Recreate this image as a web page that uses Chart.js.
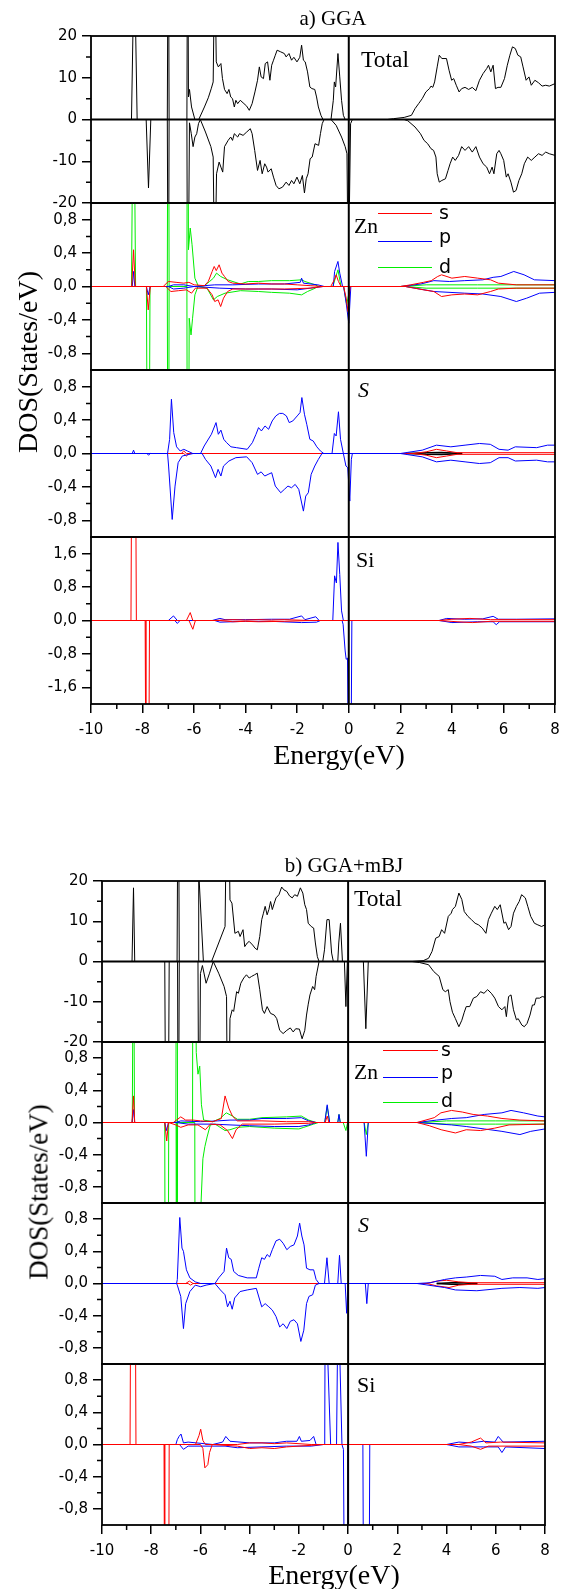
<!DOCTYPE html>
<html>
<head>
<meta charset="utf-8">
<script src="https://cdn.jsdelivr.net/npm/chart.js@4.4.0/dist/chart.umd.min.js"></script>
<style>
  body { margin: 0; background: #fff; }
  #page { position: relative; width: 561px; height: 1589px; overflow: hidden; background: #fff; }
  #page canvas { position: absolute; left: 0; }
  .txt { position: absolute; white-space: nowrap; color: #000; line-height: 1;
         font-family: 'Liberation Serif', 'Times New Roman', serif; }
  .sans { font-family: 'DejaVu Sans', 'Liberation Sans', Arial, sans-serif; }
  .key { position: absolute; height: 1px; }
</style>
</head>
<body>
<div id="page"></div>
<script>
// ---- a) GGA : [energy (eV), DOS] ----
const totUpA = [[-10,0],[-8.43,0],[-8.32,40],[-8.21,0],[-7.04,0],[-7.0,60],[-6.97,0],[-6.28,0],[-6.25,60],[-6.22,5.4],[-6.18,7.2],[-6.1,3],[-5.97,0],[-5.82,0],[-5.6,3],[-5.45,5.2],[-5.33,7.5],[-5.26,9],[-5.2,40],[-5.14,13.8],[-5.06,12.6],[-4.96,13.4],[-4.9,9.8],[-4.82,7.2],[-4.72,6.2],[-4.65,7.2],[-4.58,5.4],[-4.51,5],[-4.44,3],[-4.38,4.6],[-4.31,3.8],[-4.21,4.6],[-4.1,4],[-3.96,3.2],[-3.86,2.2],[-3.75,3.8],[-3.64,6.6],[-3.54,9.4],[-3.47,12.6],[-3.4,10.2],[-3.31,9.8],[-3.24,13.4],[-3.15,13.8],[-3.06,9.4],[-2.99,13],[-2.92,14.2],[-2.85,15.4],[-2.78,16.6],[-2.64,16.2],[-2.5,15.8],[-2.43,15],[-2.32,15.8],[-2.22,14.2],[-2.13,14.9],[-2.01,13.8],[-1.9,14.9],[-1.83,17.8],[-1.76,14.2],[-1.69,13.8],[-1.6,11.4],[-1.51,7.8],[-1.43,7.4],[-1.32,7.2],[-1.25,5.4],[-1.18,3],[-1.08,1],[-1.0,0],[-0.69,0],[-0.6,4.6],[-0.56,9],[-0.51,7.8],[-0.42,15.8],[-0.35,10.2],[-0.28,4.6],[-0.21,1],[-0.14,0],[1.5,0],[1.74,0.2],[2.15,0.5],[2.43,1],[2.57,2.6],[2.71,3.8],[2.85,5],[2.99,6.6],[3.13,7.4],[3.19,8],[3.26,7.7],[3.33,9],[3.43,12.6],[3.51,15.4],[3.61,14.6],[3.79,14.6],[3.89,11.8],[3.99,9.4],[4.07,9.8],[4.17,8.2],[4.28,6.6],[4.38,7.4],[4.51,7.7],[4.65,7.2],[4.79,7.7],[4.93,6.9],[5.07,9.4],[5.21,11],[5.35,12.2],[5.42,13],[5.51,11.4],[5.6,13],[5.69,7.4],[5.79,7.7],[5.9,7.7],[6.04,9.8],[6.15,13],[6.25,15.4],[6.35,17.4],[6.46,17],[6.56,15.4],[6.67,15],[6.76,12.6],[6.88,9.4],[6.99,10.2],[7.08,8.2],[7.22,9.4],[7.36,8.8],[7.5,8],[7.64,8.2],[7.78,8],[8,8.6]];
const totDnA = [[-10,0],[-7.86,0],[-7.77,-16.4],[-7.68,0],[-7.04,0],[-7.0,-60],[-6.97,0],[-6.28,0],[-6.25,-60],[-6.18,-0.8],[-6.11,-3.4],[-6.04,-6.5],[-5.97,-4.2],[-5.9,-3.4],[-5.83,-1],[-5.76,0],[-5.56,-3],[-5.35,-6.5],[-5.26,-9],[-5.2,-40],[-5.13,-13],[-5.03,-10.2],[-4.96,-11.4],[-4.89,-12.6],[-4.82,-6.5],[-4.68,-5],[-4.58,-4.2],[-4.51,-5],[-4.44,-3.4],[-4.31,-4.2],[-4.24,-3.4],[-4.1,-3.8],[-3.96,-3],[-3.82,-2.2],[-3.75,-3.4],[-3.65,-7.4],[-3.54,-12.2],[-3.44,-9.8],[-3.36,-13],[-3.26,-10.6],[-3.19,-11.4],[-3.13,-12.6],[-3.01,-11.8],[-2.92,-13.8],[-2.82,-15.8],[-2.71,-16.6],[-2.57,-16.2],[-2.43,-15],[-2.32,-15.8],[-2.22,-14.6],[-2.13,-15.4],[-2.01,-13.8],[-1.9,-15.4],[-1.8,-13.4],[-1.72,-17.6],[-1.65,-14.2],[-1.58,-13],[-1.5,-9.4],[-1.42,-9],[-1.31,-5.8],[-1.17,-6.2],[-1.1,-3.4],[-1.03,-1],[-0.96,0],[-0.69,0],[-0.49,-1.4],[-0.28,-4.2],[-0.14,-6.5],[-0.07,-8.2],[-0.02,-40],[0.07,-1],[0.14,0],[2.15,0],[2.29,-0.3],[2.57,-1.8],[2.78,-3.4],[2.92,-5],[3.06,-5.8],[3.19,-7],[3.29,-7.4],[3.38,-9],[3.43,-13],[3.51,-15],[3.61,-14.6],[3.75,-14.2],[3.85,-12.2],[3.93,-10.6],[4.03,-9],[4.13,-9.8],[4.26,-8.6],[4.38,-6.5],[4.51,-7.4],[4.65,-6.5],[4.79,-7.8],[4.93,-6.5],[5.07,-9],[5.21,-10.6],[5.35,-11.4],[5.46,-13],[5.56,-11.4],[5.63,-13],[5.74,-8.2],[5.83,-7.4],[5.9,-8.2],[6.01,-9.8],[6.11,-13.8],[6.18,-13],[6.29,-15],[6.39,-17.4],[6.49,-17],[6.6,-14.6],[6.71,-13],[6.81,-10.6],[6.94,-9],[7.08,-9.8],[7.22,-9],[7.36,-8.2],[7.5,-8.6],[7.64,-7.8],[7.78,-8.2],[8,-8.6]];

const znSUpA = [[-10,0],[-8.42,0],[-8.35,0.44],[-8.28,0],[-7.2,0],[-7.0,0.06],[-6.7,0.05],[-6.4,0.04],[-6.2,0.05],[-6.0,0.02],[-5.6,0.01],[-5.45,0.06],[-5.3,0.18],[-5.22,0.24],[-5.14,0.19],[-5.03,0.26],[-4.92,0.16],[-4.82,0.12],[-4.68,0.06],[-4.5,0.04],[-4.0,0.03],[-3.5,0.04],[-3.0,0.03],[-2.5,0.03],[-2.0,0.02],[-1.5,0.01],[-1.0,0],[-0.7,0],[-0.56,0.08],[-0.49,0.14],[-0.4,0.06],[-0.3,0],[2.0,0],[2.4,0.02],[2.9,0.05],[3.2,0.07],[3.45,0.12],[3.6,0.14],[4.0,0.1],[4.5,0.12],[5.0,0.1],[5.5,0.08],[5.8,0.04],[6.5,0.02],[8,0.02]];
const znSDnA = [[-10,0],[-7.85,0],[-7.78,-0.28],[-7.7,0],[-7.1,0],[-6.9,-0.06],[-6.6,-0.05],[-6.3,-0.04],[-6.1,-0.08],[-5.95,-0.02],[-5.5,-0.02],[-5.3,-0.1],[-5.2,-0.18],[-5.07,-0.16],[-4.97,-0.24],[-4.86,-0.14],[-4.7,-0.06],[-4.5,-0.03],[-3.5,-0.03],[-2.5,-0.03],[-1.5,-0.02],[-1.0,0],[-0.2,0],[-0.1,-0.14],[-0.03,-0.3],[0.05,0],[2.2,0],[2.9,-0.04],[3.3,-0.06],[3.6,-0.12],[4.0,-0.1],[4.5,-0.09],[5.0,-0.1],[5.5,-0.06],[5.8,-0.03],[6.5,-0.02],[8,-0.02]];
const znPUpA = [[-10,0],[-8.4,0],[-8.35,0.18],[-8.3,0],[-7.0,0],[-6.8,0.02],[-6.4,0.02],[-6.0,0],[-5.2,0.02],[-4.5,0.02],[-3.5,0.03],[-2.5,0.03],[-1.88,0.05],[-1.83,0.1],[-1.76,0.04],[-1.2,0.02],[-0.95,0],[-0.6,0],[-0.55,0.18],[-0.42,0.3],[-0.35,0.16],[-0.24,0],[2.0,0],[2.8,0.03],[3.3,0.07],[3.9,0.06],[4.5,0.07],[5.2,0.08],[5.6,0.11],[5.9,0.12],[6.4,0.18],[6.8,0.14],[7.2,0.08],[8,0.07]];
const znPDnA = [[-10,0],[-7.85,0],[-7.78,-0.1],[-7.7,0],[-7.0,0],[-6.8,-0.03],[-6.4,-0.02],[-6.0,0],[-5.0,-0.02],[-4.0,-0.03],[-3.0,-0.03],[-2.0,-0.04],[-1.5,-0.02],[-1.0,0],[-0.2,0],[-0.1,-0.2],[0.0,-0.44],[0.08,0],[2.2,0],[3.3,-0.06],[4.5,-0.08],[5.2,-0.09],[5.9,-0.12],[6.5,-0.18],[6.9,-0.14],[7.4,-0.08],[8,-0.07]];
const znDUpA = [[-10,0],[-8.43,0],[-8.35,3],[-8.27,0],[-7.04,0],[-7.0,5],[-6.97,0],[-6.28,0],[-6.25,5],[-6.22,0.44],[-6.15,0.7],[-6.08,0.5],[-5.97,0.1],[-5.83,0],[-5.6,0.01],[-5.4,0.06],[-5.25,0.1],[-5.13,0.16],[-4.97,0.12],[-4.7,0.08],[-4.2,0.03],[-3.9,0.06],[-3.5,0.06],[-3.0,0.07],[-2.3,0.07],[-1.83,0.08],[-1.7,0.06],[-1.3,0.02],[-1.18,0],[-0.62,0],[-0.42,0.2],[-0.3,0],[2.0,0],[3.0,0.02],[5.0,0.02],[8,0.02]];
const znDDnA = [[-10,0],[-7.85,0],[-7.78,-5],[-7.71,0],[-7.04,0],[-7.0,-5],[-6.97,0],[-6.28,0],[-6.25,-5],[-6.19,-0.38],[-6.12,-0.58],[-6.06,-0.38],[-5.97,-0.1],[-5.85,0],[-5.5,-0.02],[-5.25,-0.16],[-5.1,-0.12],[-4.8,-0.08],[-4.2,-0.05],[-3.5,-0.06],[-3.0,-0.07],[-2.3,-0.08],[-1.83,-0.1],[-1.6,-0.06],[-1.3,-0.02],[-1.18,0],[-0.2,0],[-0.08,-0.22],[0.05,0],[2.2,0],[3.0,-0.02],[5.0,-0.02],[8,-0.02]];

const sPUpA = [[-10,0],[-8.4,0],[-8.35,0.04],[-8.3,0],[-7.03,0],[-6.95,0.17],[-6.88,0.65],[-6.79,0.25],[-6.68,0.08],[-6.54,0.03],[-6.4,0.05],[-6.26,0.03],[-6.05,0],[-5.75,0],[-5.61,0.09],[-5.33,0.23],[-5.15,0.37],[-5.06,0.23],[-4.96,0.28],[-4.85,0.17],[-4.74,0.13],[-4.57,0.08],[-4.36,0.07],[-3.94,0.05],[-3.74,0.13],[-3.6,0.23],[-3.5,0.31],[-3.39,0.27],[-3.25,0.33],[-3.11,0.29],[-2.97,0.39],[-2.83,0.45],[-2.69,0.48],[-2.56,0.48],[-2.42,0.45],[-2.31,0.37],[-2.17,0.39],[-2.0,0.45],[-1.89,0.49],[-1.82,0.67],[-1.72,0.47],[-1.63,0.35],[-1.51,0.17],[-1.38,0.15],[-1.24,0.08],[-1.1,0.03],[-0.97,0],[-0.65,0],[-0.56,0.24],[-0.49,0.21],[-0.4,0.5],[-0.32,0.17],[-0.21,0],[2.0,0],[2.85,0.04],[3.4,0.1],[3.96,0.08],[4.51,0.1],[5.07,0.12],[5.49,0.11],[5.83,0.05],[6.18,0.04],[6.46,0.08],[7.29,0.07],[7.71,0.1],[8,0.1]];
const sPDnA = [[-10,0],[-7.83,0],[-7.77,-0.02],[-7.7,0],[-7.03,0],[-6.99,-0.15],[-6.85,-0.79],[-6.74,-0.39],[-6.62,-0.11],[-6.46,-0.03],[-6.04,0],[-5.69,0],[-5.56,-0.07],[-5.35,-0.15],[-5.17,-0.29],[-5.07,-0.19],[-4.96,-0.27],[-4.86,-0.15],[-4.65,-0.09],[-4.38,-0.05],[-3.96,-0.04],[-3.75,-0.11],[-3.54,-0.25],[-3.4,-0.22],[-3.26,-0.27],[-3.13,-0.25],[-2.99,-0.23],[-2.85,-0.39],[-2.64,-0.47],[-2.5,-0.43],[-2.36,-0.39],[-2.22,-0.41],[-2.08,-0.37],[-1.94,-0.43],[-1.76,-0.69],[-1.67,-0.51],[-1.57,-0.47],[-1.46,-0.25],[-1.32,-0.15],[-1.18,-0.07],[-1.04,0],[-0.21,0],[-0.11,-0.15],[-0.04,-0.17],[0.04,-0.57],[0.1,-0.07],[0.14,0],[2.0,0],[2.85,-0.04],[3.4,-0.1],[3.96,-0.08],[4.51,-0.1],[5.07,-0.12],[5.49,-0.11],[5.83,-0.05],[6.18,-0.05],[6.46,-0.09],[7.29,-0.08],[7.71,-0.1],[8,-0.1]];
const sSUpA = [[-10,0],[-6.5,0],[-6.4,0.03],[-6.3,0],[2.5,0],[3.0,0.02],[3.4,0.05],[3.8,0.03],[4.2,0.01],[8,0.01]];
const sSDnA = [[-10,0],[-6.4,0],[-6.3,-0.03],[-6.2,0],[2.5,0],[3.0,-0.02],[3.4,-0.05],[3.8,-0.03],[4.2,-0.01],[8,-0.01]];
const sDUpA = [[2.3,0],[3.0,0.01],[3.6,0.012],[4.4,0]];
const sDDnA = [[2.3,0],[3.0,-0.01],[3.6,-0.012],[4.4,0]];

const siSUpA = [[-10,0],[-8.45,0],[-8.42,4],[-8.27,4],[-8.24,0],[-6.3,0],[-6.15,0.19],[-6.05,0],[-5.2,0],[-4.5,0.02],[-4.0,0.01],[-3.5,0.02],[-3.0,0.01],[-2.5,0.02],[-1.5,0],[3.5,0],[4.0,0.03],[4.7,0.05],[5.5,0.02],[8,0.02]];
const siSDnA = [[-10,0],[-7.9,0],[-7.87,-4],[-7.76,-4],[-7.73,0],[-6.2,0],[-6.05,-0.21],[-5.95,0],[-5.0,0],[-4.5,-0.03],[-4.0,-0.02],[-3.5,-0.03],[-2.5,-0.02],[-1.5,0],[3.5,0],[4.2,-0.03],[4.8,-0.05],[5.5,-0.02],[8,-0.02]];
const siPUpA = [[-10,0],[-7.0,0],[-6.8,0.11],[-6.65,0],[-5.3,0],[-5.0,0.05],[-4.8,0.02],[-4.0,0.02],[-3.0,0.03],[-2.3,0.03],[-1.83,0.11],[-1.7,0.02],[-1.28,0.09],[-1.15,0],[-0.62,0],[-0.55,1.07],[-0.48,0.9],[-0.42,1.87],[-0.35,1.1],[-0.28,0.23],[-0.21,0],[3.5,0],[3.8,0.05],[4.5,0.03],[5.2,0.04],[5.6,0.1],[5.8,0.03],[6.5,0.03],[8,0.04]];
const siPDnA = [[-10,0],[-6.75,0],[-6.65,-0.07],[-6.55,0],[-5.2,0],[-5.0,-0.04],[-4.0,-0.02],[-3.0,-0.02],[-1.83,-0.05],[-1.25,-0.04],[-1.1,0],[-0.26,0],[-0.22,-0.09],[-0.14,-0.73],[-0.1,-0.93],[-0.05,-0.9],[-0.01,-4],[0.08,-4],[0.12,0],[3.5,0],[4.0,-0.05],[5.0,-0.03],[5.6,-0.03],[5.72,-0.1],[5.85,-0.03],[8,-0.03]];

// ---- b) GGA+mBJ ----
const totUpB = [[-10,0],[-8.78,0],[-8.72,18.3],[-8.67,0],[-6.95,0],[-6.9,60],[-6.86,0],[-6.08,0],[-6.07,60],[-6.05,20],[-5.88,0],[-5.55,0],[-5.0,8.7],[-4.9,60],[-4.8,15.3],[-4.72,14.5],[-4.6,7],[-4.46,7.5],[-4.39,6.2],[-4.27,7.9],[-4.2,3.7],[-4.1,4.6],[-4.02,5],[-3.88,4.1],[-3.78,3.3],[-3.69,2.9],[-3.59,6.2],[-3.51,10.4],[-3.44,12],[-3.37,13.7],[-3.29,11.6],[-3.22,12.9],[-3.15,14.9],[-3.08,12.9],[-3.0,14.5],[-2.93,15.8],[-2.81,16.6],[-2.7,18.5],[-2.61,17.8],[-2.49,17.4],[-2.38,16.3],[-2.27,15.8],[-2.17,16.6],[-2.06,16.2],[-1.94,18.3],[-1.84,17],[-1.76,14.1],[-1.69,12.9],[-1.62,9.5],[-1.5,8.7],[-1.4,8.3],[-1.33,4.6],[-1.25,1.2],[-1.18,0],[-1.03,0],[-0.96,2.9],[-0.86,10.4],[-0.77,10.4],[-0.67,2.1],[-0.6,0],[-0.42,0],[-0.38,4.6],[-0.31,9.5],[-0.23,0],[2.61,0],[3.05,0.2],[3.27,0.8],[3.41,2.5],[3.56,5.8],[3.7,6.2],[3.8,7.9],[3.92,7],[4.07,11.2],[4.19,12],[4.24,12.9],[4.36,13.7],[4.5,17],[4.62,15.4],[4.72,12.4],[4.87,11.2],[5.01,10.4],[5.16,9.5],[5.3,9.1],[5.45,8.3],[5.6,7],[5.7,10.4],[5.82,12],[5.96,13.7],[6.06,12.9],[6.18,14.1],[6.33,9.5],[6.4,9.8],[6.52,7.9],[6.62,8.7],[6.72,12],[6.84,13.7],[6.95,14.9],[7.05,16.6],[7.2,15.8],[7.3,13.7],[7.42,11.2],[7.57,9.5],[7.71,9.1],[7.86,8.7],[8,9.1]];
const totDnB = [[-10,0],[-7.45,0],[-7.4,-60],[-7.32,-60],[-7.27,0],[-6.93,0],[-6.9,-60],[-6.86,0],[-6.1,0],[-6.06,-60],[-6.0,-3],[-5.92,-1],[-5.77,-5.4],[-5.63,-2.9],[-5.48,0],[-5.26,-2.9],[-5.04,-6.2],[-4.94,-8.7],[-4.88,-60],[-4.8,-14.2],[-4.71,-12],[-4.65,-12.4],[-4.53,-7.5],[-4.46,-7.9],[-4.36,-5.4],[-4.24,-4.1],[-4.13,-3.3],[-4.02,-4.1],[-3.92,-3.7],[-3.8,-3.3],[-3.69,-2.9],[-3.59,-7],[-3.48,-12],[-3.4,-12.9],[-3.29,-11.2],[-3.15,-12.9],[-3.0,-13.3],[-2.9,-14.2],[-2.78,-17.1],[-2.64,-17.9],[-2.49,-17.1],[-2.35,-16.5],[-2.23,-17.5],[-2.13,-16.7],[-1.98,-16.8],[-1.87,-19.2],[-1.76,-17.1],[-1.69,-13.3],[-1.62,-10.6],[-1.55,-8.3],[-1.44,-6.2],[-1.36,-7],[-1.3,-3.7],[-1.18,0],[-0.15,0],[-0.09,-11.2],[-0.03,0],[0.62,0],[0.72,-16.7],[0.82,0],[2.6,0],[2.9,-0.25],[3.27,-0.8],[3.48,-2.5],[3.7,-3.7],[3.85,-7],[3.95,-7.5],[4.07,-7],[4.14,-10],[4.24,-12.6],[4.36,-14.2],[4.5,-16.2],[4.62,-14.6],[4.72,-12.6],[4.8,-11.2],[4.94,-11.2],[5.09,-9.1],[5.23,-8.7],[5.38,-7.5],[5.52,-7.9],[5.67,-7],[5.82,-7.9],[5.96,-9.1],[6.11,-11.2],[6.25,-12],[6.37,-11.2],[6.43,-13.7],[6.52,-8.7],[6.62,-8.3],[6.72,-12],[6.84,-14.5],[6.91,-14.2],[7.06,-15.8],[7.16,-16.2],[7.27,-15.4],[7.39,-13.3],[7.49,-10.8],[7.57,-10.8],[7.64,-9.1],[7.78,-9.1],[7.89,-8.7],[8,-8.9]];

const znSUpB = [[-10,0],[-8.78,0],[-8.72,0.33],[-8.67,0],[-7.1,0],[-6.8,0.07],[-6.6,0.03],[-6.3,0.03],[-6.0,0.02],[-5.5,0.01],[-5.15,0.05],[-5.0,0.33],[-4.85,0.18],[-4.7,0.08],[-4.5,0.02],[-3.5,0.02],[-2.5,0.01],[-1.6,0.01],[-1.3,0],[-0.93,0],[-0.85,0.08],[-0.78,0],[2.8,0],[3.5,0.06],[3.77,0.12],[4.2,0.15],[4.64,0.13],[5.08,0.1],[5.66,0.08],[6.25,0.05],[6.98,0.03],[8,0.02]];
const znSDnB = [[-10,0],[-7.45,0],[-7.37,-0.23],[-7.3,0],[-7.0,-0.03],[-6.8,-0.06],[-6.5,-0.03],[-6.1,-0.03],[-5.8,-0.09],[-5.6,-0.02],[-5.2,-0.03],[-4.9,-0.1],[-4.7,-0.2],[-4.55,-0.09],[-4.3,-0.02],[-3,-0.02],[-1.6,-0.01],[-1.3,0],[2.8,0],[3.3,-0.04],[3.78,-0.09],[4.36,-0.13],[4.8,-0.09],[5.38,-0.1],[5.96,-0.07],[6.54,-0.03],[8,-0.02]];
const znPUpB = [[-10,0],[-8.78,0],[-8.72,0.16],[-8.67,0],[-7.0,0],[-6.8,0.02],[-6.0,0.01],[-5.3,0.02],[-4.8,0.03],[-4.0,0.03],[-3.5,0.05],[-2.5,0.05],[-1.9,0.06],[-1.6,0.02],[-1.3,0],[-0.95,0],[-0.85,0.22],[-0.75,0],[-0.42,0],[-0.37,0.1],[-0.32,0],[2.8,0],[3.6,0.03],[4.21,0.05],[4.8,0.06],[5.53,0.1],[6.25,0.12],[6.62,0.15],[7.13,0.12],[7.71,0.08],[8,0.07]];
const znPDnB = [[-10,0],[-7.45,0],[-7.38,-0.1],[-7.3,0],[-7.0,0],[-6.5,-0.02],[-5.5,-0.02],[-4.8,-0.03],[-4.0,-0.04],[-3.0,-0.05],[-2.0,-0.05],[-1.6,-0.03],[-1.3,0],[0.65,0],[0.74,-0.42],[0.82,0],[2.8,0],[4.2,-0.03],[4.8,-0.05],[5.53,-0.08],[6.25,-0.11],[6.98,-0.15],[7.42,-0.11],[8,-0.08]];
const znDUpB = [[-10,0],[-8.77,0],[-8.72,3],[-8.68,0],[-7.0,0],[-6.96,5],[-6.93,0],[-6.32,0],[-6.3,5],[-6.17,0.87],[-6.1,0.6],[-6.03,0.7],[-5.96,0.22],[-5.87,0.03],[-5.5,0.01],[-5.2,0.05],[-4.95,0.12],[-4.7,0.08],[-4.5,0.04],[-4.0,0.04],[-3.5,0.06],[-2.5,0.07],[-1.9,0.08],[-1.6,0.03],[-1.3,0],[-0.95,0],[-0.85,0.2],[-0.75,0],[-0.42,0],[-0.37,0.1],[-0.32,0],[3,0],[4,0.02],[6,0.02],[8,0.02]];
const znDDnB = [[-10,0],[-7.45,0],[-7.42,-5],[-7.32,-5],[-7.29,0],[-6.99,0],[-6.96,-5],[-6.93,0],[-6.23,0],[-6.2,-5],[-6.1,-5],[-5.99,-1.1],[-5.9,-0.45],[-5.82,-0.3],[-5.73,-0.18],[-5.6,-0.03],[-5.4,-0.02],[-5.0,-0.1],[-4.8,-0.09],[-4.5,-0.06],[-4.0,-0.05],[-3.0,-0.07],[-2.0,-0.08],[-1.8,-0.06],[-1.4,-0.02],[-1.2,0],[-0.2,0],[-0.09,-0.1],[-0.02,0],[0.65,0],[0.74,-0.15],[0.82,0],[2.8,0],[4,-0.02],[6,-0.02],[8,-0.02]];

const sPUpB = [[-10,0],[-6.97,0],[-6.94,0.05],[-6.84,0.82],[-6.75,0.44],[-6.69,0.4],[-6.57,0.17],[-6.43,0.07],[-6.21,0.02],[-5.99,0],[-5.41,0],[-5.26,0.07],[-5.04,0.15],[-4.94,0.44],[-4.85,0.32],[-4.75,0.3],[-4.65,0.15],[-4.46,0.1],[-4.1,0.07],[-3.73,0.07],[-3.63,0.19],[-3.51,0.32],[-3.4,0.3],[-3.29,0.36],[-3.19,0.33],[-3.08,0.42],[-2.93,0.53],[-2.78,0.55],[-2.64,0.5],[-2.49,0.42],[-2.35,0.46],[-2.2,0.48],[-2.06,0.59],[-1.97,0.75],[-1.88,0.59],[-1.79,0.48],[-1.69,0.19],[-1.55,0.17],[-1.4,0.17],[-1.3,0.05],[-1.18,0],[-0.96,0],[-0.86,0.32],[-0.77,0],[-0.42,0],[-0.35,0.35],[-0.28,0],[2.8,0],[3.34,0.01],[3.92,0.05],[4.36,0.07],[4.8,0.08],[5.38,0.1],[5.96,0.09],[6.25,0.05],[6.69,0.07],[7.27,0.07],[7.71,0.05],[8,0.06]];
const sPDnB = [[-10,0],[-6.97,0],[-6.94,-0.02],[-6.8,-0.16],[-6.69,-0.56],[-6.6,-0.25],[-6.43,-0.1],[-6.21,-0.02],[-5.99,-0.04],[-5.77,-0.02],[-5.41,0],[-5.19,-0.08],[-5.0,-0.14],[-4.9,-0.29],[-4.8,-0.22],[-4.71,-0.32],[-4.61,-0.18],[-4.39,-0.1],[-4.1,-0.08],[-3.73,-0.06],[-3.51,-0.29],[-3.37,-0.25],[-3.22,-0.29],[-3.08,-0.33],[-2.93,-0.41],[-2.78,-0.54],[-2.64,-0.5],[-2.49,-0.56],[-2.35,-0.47],[-2.2,-0.45],[-2.06,-0.5],[-1.92,-0.72],[-1.8,-0.58],[-1.69,-0.25],[-1.59,-0.16],[-1.44,-0.14],[-1.33,-0.02],[-1.18,0],[-0.12,0],[-0.06,-0.37],[0.0,0],[0.7,0],[0.76,-0.25],[0.82,0],[2.8,0],[3.92,-0.05],[4.36,-0.08],[5.23,-0.09],[6.25,-0.06],[6.98,-0.05],[7.71,-0.06],[8,-0.05]];
const sSUpB = [[-10,0],[-6.6,0],[-6.45,0.03],[-6.3,0],[3.2,0],[3.6,0.03],[4.0,0.04],[4.5,0.02],[5.0,0.01],[8,0.01]];
const sSDnB = [[-10,0],[-6.5,0],[-6.4,-0.02],[-6.3,0],[3.2,0],[3.6,-0.03],[4.1,-0.05],[4.5,-0.02],[5.0,-0.01],[8,-0.01]];
const sDUpB = [[3.6,0],[4.2,0.01],[4.7,0.01],[5.25,0]];
const sDDnB = [[3.6,0],[4.2,-0.01],[4.7,-0.01],[5.25,0]];

const siSUpB = [[-10,0],[-8.86,0],[-8.82,3],[-8.66,3],[-8.62,0],[-6.2,0],[-6.06,0.11],[-5.99,0.19],[-5.9,0.05],[-5.8,0],[-4.5,0],[-4.0,0.02],[-3.5,0.02],[-3.0,0.01],[-2.5,0.02],[-1.5,0],[4.5,0],[5.0,0.03],[5.38,0.08],[5.6,0.02],[6.2,0.03],[8,0.02]];
const siSDnB = [[-10,0],[-7.48,0],[-7.45,-3],[-7.3,-3],[-7.27,0],[-6.0,0],[-5.9,-0.05],[-5.82,-0.29],[-5.7,-0.25],[-5.63,-0.1],[-5.52,0],[-4.5,-0.02],[-4.0,-0.05],[-3.5,-0.04],[-3.0,-0.05],[-2.5,-0.03],[-1.5,-0.01],[-1.0,0],[4.5,0],[5.0,-0.02],[5.38,-0.06],[5.7,-0.02],[8,-0.02]];
const siPUpB = [[-10,0],[-7.0,0],[-6.94,0.06],[-6.87,0.1],[-6.79,0.13],[-6.69,0.02],[-6.5,0.03],[-5.5,0],[-5.1,0.03],[-4.97,0.1],[-4.8,0.04],[-4.0,0.02],[-3.0,0.02],[-2.5,0.04],[-2.08,0.04],[-1.98,0.1],[-1.9,0.04],[-1.55,0.05],[-1.4,0.1],[-1.3,0],[-0.95,0],[-0.92,3],[-0.84,3],[-0.82,1],[-0.71,0],[-0.47,0],[-0.42,1.5],[-0.41,3],[-0.35,3],[-0.33,1],[-0.25,0],[4.0,0],[4.5,0.03],[5.0,0.02],[5.5,0.04],[5.96,0.03],[6.1,0.1],[6.3,0.03],[8,0.04]];
const siPDnB = [[-10,0],[-6.85,0],[-6.69,-0.06],[-6.5,-0.02],[-5.0,-0.02],[-4.5,-0.04],[-3.5,-0.03],[-2.5,-0.02],[-1.5,-0.02],[-1.0,0],[-0.25,0],[-0.19,-0.06],[-0.13,-3],[-0.05,-3],[-0.01,0],[0.6,0],[0.64,-3],[0.84,-3],[0.88,0],[4.0,0],[4.5,-0.03],[5.5,-0.03],[6.1,-0.03],[6.25,-0.1],[6.4,-0.03],[8,-0.05]];

// axis ticks
const totTicks = [-20, -10, 0, 10, 20];
const totMinor = [-15, -5, 5, 15];
const pdosTicks = [-0.8, -0.4, 0, 0.4, 0.8];
const pdosMinor = [-0.6, -0.2, 0.2, 0.6];
const siTicksA = [-1.6, -0.8, 0, 0.8, 1.6];
const siMinorA = [-1.2, -0.4, 0.4, 1.2];
const xMinor = [-9, -7, -5, -3, -1, 1, 3, 5, 7];

const RED = '#ff0000', BLUE = '#0000ff', GREEN = '#00ee00', BLACK = '#000000';

Chart.defaults.font.family = "'DejaVu Sans', 'Liberation Sans', Arial, sans-serif";
Chart.defaults.font.size = 15;
Chart.defaults.color = '#000';

const intFmt = v => String(v);
const commaFmt = v => v.toFixed(1).replace('.', ',');

// panel frame, E=0 line, zero line and minor ticks
const framePlugin = {
  id: 'frame',
  afterDatasetsDraw(chart, args, opts) {
    const { ctx, chartArea: a } = chart;
    const x = chart.scales.x, y = chart.scales.y;
    ctx.save();
    ctx.strokeStyle = '#000';
    if (opts.zeroLine) {
      const y0 = y.getPixelForValue(0);
      ctx.lineWidth = 2;
      ctx.beginPath(); ctx.moveTo(a.left, y0); ctx.lineTo(a.right, y0); ctx.stroke();
    }
    const x0 = x.getPixelForValue(0);
    ctx.lineWidth = 2;
    ctx.beginPath(); ctx.moveTo(x0, a.top); ctx.lineTo(x0, a.bottom); ctx.stroke();
    ctx.lineWidth = 1.5;
    ctx.beginPath();
    (opts.minorY || []).forEach(v => {
      const py = y.getPixelForValue(v);
      ctx.moveTo(a.left - 5, py); ctx.lineTo(a.left, py);
    });
    (opts.minorX || []).forEach(v => {
      const px = x.getPixelForValue(v);
      ctx.moveTo(px, a.bottom); ctx.lineTo(px, a.bottom + 5);
    });
    ctx.stroke();
    ctx.lineWidth = 1.8;
    ctx.strokeRect(a.left, a.top, a.right - a.left, a.bottom - a.top);
    ctx.restore();
  }
};

const page = document.getElementById('page');
const PAD = 14, XH = 40;

function makePanel(fig, idx, cfg) {
  const last = idx === 3;
  const top = fig.edges[idx], bottom = fig.edges[idx + 1];
  const cv = document.createElement('canvas');
  cv.width = 561;
  cv.height = bottom - top + PAD + (last ? XH : PAD);
  cv.style.top = (top - PAD) + 'px';
  page.appendChild(cv);

  const tickGrid = { drawOnChartArea: false, drawTicks: true, tickLength: 9, color: '#000', lineWidth: 1.5, tickColor: '#000', tickWidth: 1.5 };
  const xScale = { type: 'linear', min: -10, max: 8, display: last, border: { display: false },
    ticks: { stepSize: 2, autoSkip: false, maxRotation: 0, padding: 8 }, grid: tickGrid };
  if (last) {
    // keep the plot box fixed: no extra room for the end labels
    xScale.afterFit = s => { s.height = XH; s.paddingLeft = 0; s.paddingRight = 0; };
  }

  return new Chart(cv, {
    type: 'line',
    data: {
      datasets: cfg.series.map(s => ({
        data: s.data, borderColor: s.color, borderWidth: s.width || 1,
        pointRadius: 0, tension: 0, fill: false
      }))
    },
    options: {
      responsive: false,
      animation: false,
      devicePixelRatio: 1,
      events: [],
      layout: { padding: { top: PAD, bottom: last ? 0 : PAD, left: 0, right: 561 - fig.right } },
      plugins: {
        legend: { display: false },
        tooltip: { enabled: false },
        frame: { minorY: cfg.minor, minorX: last ? xMinor : null, zeroLine: !!cfg.zero }
      },
      scales: {
        x: xScale,
        y: {
          type: 'linear', min: cfg.min, max: cfg.max,
          border: { display: false },
          afterBuildTicks: s => { s.ticks = cfg.ticks.map(v => ({ value: v })); },
          afterFit: s => { s.width = fig.left; },
          ticks: { autoSkip: false, padding: 5, callback: cfg.fmt },
          grid: tickGrid
        }
      }
    },
    plugins: [framePlugin]
  });
}

const FIG_A = { left: 91, right: 555, edges: [36, 203, 370, 537, 704] };
const FIG_B = { left: 102, right: 545, edges: [881, 1042, 1203, 1364, 1525] };

makePanel(FIG_A, 0, { min: -20, max: 20, ticks: totTicks, minor: totMinor, fmt: intFmt, zero: true,
  series: [{ data: totUpA, color: BLACK }, { data: totDnA, color: BLACK }] });
makePanel(FIG_A, 1, { min: -1, max: 1, ticks: pdosTicks, minor: pdosMinor, fmt: commaFmt,
  series: [{ data: znSUpA, color: RED }, { data: znSDnA, color: RED },
           { data: znPUpA, color: BLUE }, { data: znPDnA, color: BLUE },
           { data: znDUpA, color: GREEN }, { data: znDDnA, color: GREEN }] });
makePanel(FIG_A, 2, { min: -1, max: 1, ticks: pdosTicks, minor: pdosMinor, fmt: commaFmt,
  series: [{ data: sPUpA, color: BLUE }, { data: sPDnA, color: BLUE },
           { data: sSUpA, color: RED }, { data: sSDnA, color: RED },
           { data: sDUpA, color: BLACK, width: 1.5 }, { data: sDDnA, color: BLACK, width: 1.5 }] });
makePanel(FIG_A, 3, { min: -2, max: 2, ticks: siTicksA, minor: siMinorA, fmt: commaFmt,
  series: [{ data: siSUpA, color: RED }, { data: siSDnA, color: RED },
           { data: siPUpA, color: BLUE }, { data: siPDnA, color: BLUE }] });

makePanel(FIG_B, 0, { min: -20, max: 20, ticks: totTicks, minor: totMinor, fmt: intFmt, zero: true,
  series: [{ data: totUpB, color: BLACK }, { data: totDnB, color: BLACK }] });
makePanel(FIG_B, 1, { min: -1, max: 1, ticks: pdosTicks, minor: pdosMinor, fmt: commaFmt,
  series: [{ data: znSUpB, color: RED }, { data: znSDnB, color: RED },
           { data: znPUpB, color: BLUE }, { data: znPDnB, color: BLUE },
           { data: znDUpB, color: GREEN }, { data: znDDnB, color: GREEN }] });
makePanel(FIG_B, 2, { min: -1, max: 1, ticks: pdosTicks, minor: pdosMinor, fmt: commaFmt,
  series: [{ data: sPUpB, color: BLUE }, { data: sPDnB, color: BLUE },
           { data: sSUpB, color: RED }, { data: sSDnB, color: RED },
           { data: sDUpB, color: BLACK, width: 1.5 }, { data: sDDnB, color: BLACK, width: 1.5 }] });
makePanel(FIG_B, 3, { min: -1, max: 1, ticks: pdosTicks, minor: pdosMinor, fmt: commaFmt,
  series: [{ data: siSUpB, color: RED }, { data: siSDnB, color: RED },
           { data: siPUpB, color: BLUE }, { data: siPDnB, color: BLUE }] });

// text labels
function addText(str, left, top, size, extra) {
  const d = document.createElement('div');
  d.className = 'txt';
  d.textContent = str;
  d.style.left = left + 'px';
  d.style.top = top + 'px';
  d.style.fontSize = size + 'px';
  if (extra) Object.assign(d.style, extra);
  page.appendChild(d);
  return d;
}
function addKey(x1, x2, y, color) {
  const d = document.createElement('div');
  d.className = 'key';
  d.style.left = x1 + 'px';
  d.style.top = y + 'px';
  d.style.width = (x2 - x1) + 'px';
  d.style.background = color;
  page.appendChild(d);
}

const center = { transform: 'translateX(-50%)' };
const rotated = { transform: 'translate(-50%, -50%) rotate(-90deg)' };

addText('a) GGA', 333, 8, 21, center);
addText('b) GGA+mBJ', 344, 855, 21, center);
addText('DOS(States/eV)', 28, 362, 28, rotated);
addText('DOS(States/eV)', 39, 1192, 27, rotated);
addText('Energy(eV)', 339, 741, 28, center);
addText('Energy(eV)', 334, 1561, 28, center);

addText('Total', 361, 48, 23.5);
addText('Zn', 354, 216, 21.5);
addText('S', 358, 379, 22, { fontStyle: 'italic' });
addText('Si', 356, 549, 22);
addText('Total', 354, 887, 23.5);
addText('Zn', 354, 1062, 21.5);
addText('S', 358, 1214, 22, { fontStyle: 'italic' });
addText('Si', 357, 1374, 22);

// Zn legends
const legA = [['s', RED, 213, 203], ['p', BLUE, 241, 227], ['d', GREEN, 267, 257]];
legA.forEach(([t, c, ly, ty]) => {
  addKey(378, 432, ly, c);
  addText(t, 439, ty, 19).classList.add('sans');
});
const legB = [['s', RED, 1050, 1040], ['p', BLUE, 1077, 1063], ['d', GREEN, 1102, 1091]];
legB.forEach(([t, c, ly, ty]) => {
  addKey(383, 438, ly, c);
  addText(t, 441, ty, 19).classList.add('sans');
});
</script>
</body>
</html>
